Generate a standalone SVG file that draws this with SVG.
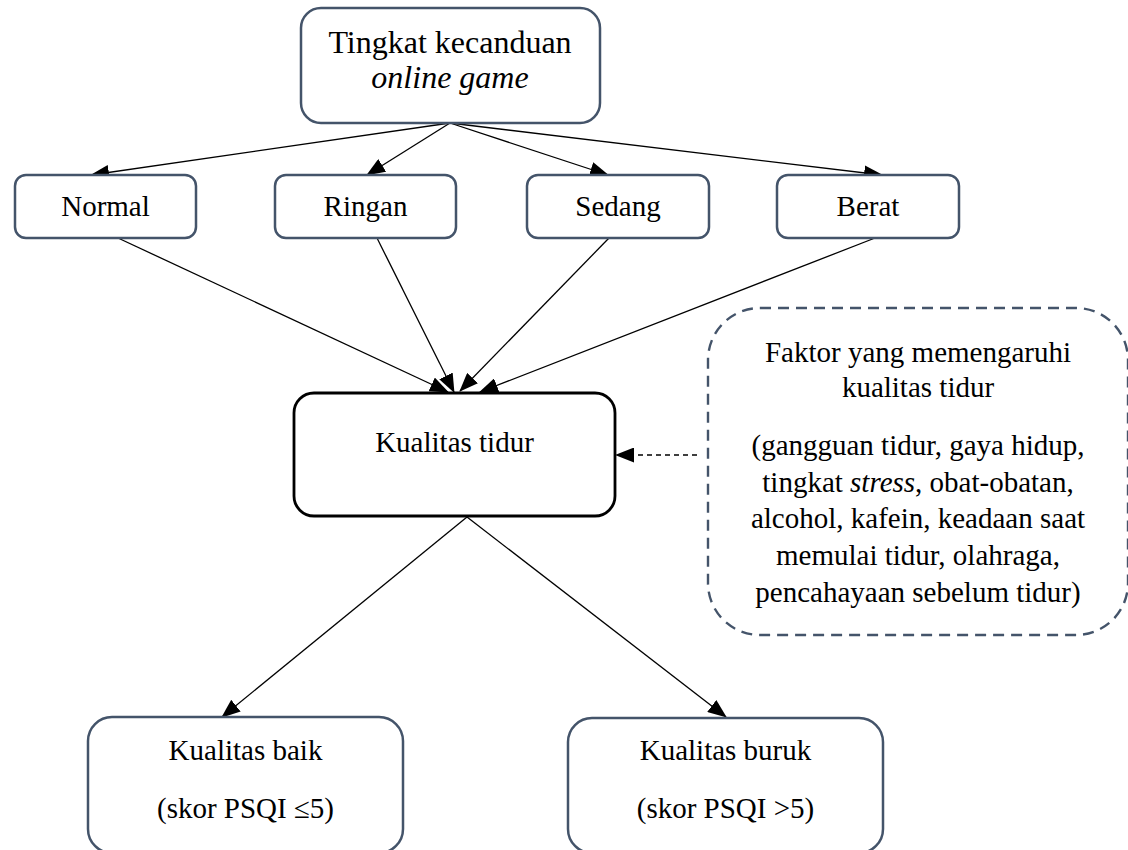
<svg xmlns="http://www.w3.org/2000/svg" width="1128" height="850" viewBox="0 0 1128 850">
<style>
.box{fill:#fff;stroke:#44546a;stroke-width:2.5}
.main{fill:#fff;stroke:#000;stroke-width:2.8}
.dash{fill:none;stroke:#44546a;stroke-width:2.4;stroke-dasharray:11 7}
.t{font-family:"Liberation Serif","Times New Roman",serif;font-size:29px;fill:#000;text-anchor:middle}
.ln{stroke:#000;stroke-width:1.3;fill:none;marker-end:url(#ah)}
.dl{stroke:#000;stroke-width:1.3;fill:none;stroke-dasharray:5 4;marker-end:url(#ah)}
</style>
<defs>
<marker id="ah" markerUnits="userSpaceOnUse" markerWidth="19" markerHeight="15" viewBox="0 0 19 15" refX="18" refY="7.5" orient="auto">
<path d="M0,0 L19,7.5 L0,15 Z" fill="#000"/>
</marker>
</defs>
<g id="connectors">
<line class="ln" x1="450" y1="123" x2="91" y2="175"/>
<line class="ln" x1="450" y1="123" x2="367" y2="175"/>
<line class="ln" x1="450" y1="123" x2="608" y2="175"/>
<line class="ln" x1="450" y1="123" x2="882" y2="175"/>
<line class="ln" x1="118" y1="238" x2="448" y2="392"/>
<line class="ln" x1="377" y1="238" x2="454" y2="392"/>
<line class="ln" x1="609" y1="238" x2="460" y2="391"/>
<line class="ln" x1="875" y1="238" x2="480" y2="392"/>
<line class="ln" x1="467" y1="517" x2="222" y2="717"/>
<line class="ln" x1="467" y1="517" x2="726" y2="717"/>
<line class="dl" x1="697" y1="455" x2="616" y2="455"/>
</g>
<g id="node-top">
<rect class="box" x="301" y="8" width="299" height="115" rx="20"/>
<text class="t" x="450" y="53" style="font-size:32px">Tingkat kecanduan</text>
<text class="t" x="450" y="88" style="font-size:32px;font-style:italic">online game</text>
</g>
<g id="node-normal">
<rect class="box" x="15" y="175" width="181" height="63" rx="11"/>
<text class="t" x="105.5" y="216">Normal</text>
</g>
<g id="node-ringan">
<rect class="box" x="275" y="175" width="181" height="63" rx="11"/>
<text class="t" x="365.5" y="216">Ringan</text>
</g>
<g id="node-sedang">
<rect class="box" x="527" y="175" width="182" height="63" rx="11"/>
<text class="t" x="618" y="216">Sedang</text>
</g>
<g id="node-berat">
<rect class="box" x="777" y="175" width="182" height="63" rx="11"/>
<text class="t" x="868" y="216">Berat</text>
</g>
<g id="node-kualitas">
<rect class="main" x="294" y="393" width="321" height="123" rx="20"/>
<text class="t" x="454.5" y="452">Kualitas tidur</text>
</g>
<g id="node-faktor">
<rect class="dash" x="708" y="308" width="420" height="327" rx="52"/>
<text class="t" x="918" y="362">Faktor yang memengaruhi</text>
<text class="t" x="918" y="397">kualitas tidur</text>
<text class="t" x="918" y="455">(gangguan tidur, gaya hidup,</text>
<text class="t" x="918" y="492">tingkat <tspan font-style="italic">stress</tspan>, obat-obatan,</text>
<text class="t" x="918" y="528">alcohol, kafein, keadaan saat</text>
<text class="t" x="918" y="565">memulai tidur, olahraga,</text>
<text class="t" x="918" y="602">pencahayaan sebelum tidur)</text>
</g>
<g id="node-baik">
<rect class="box" x="88" y="717" width="315" height="136" rx="24"/>
<text class="t" x="245.5" y="760">Kualitas baik</text>
<text class="t" x="245.5" y="818">(skor PSQI ≤5)</text>
</g>
<g id="node-buruk">
<rect class="box" x="568" y="718" width="315" height="135" rx="24"/>
<text class="t" x="725.5" y="760">Kualitas buruk</text>
<text class="t" x="725.5" y="818">(skor PSQI &gt;5)</text>
</g>
</svg>
